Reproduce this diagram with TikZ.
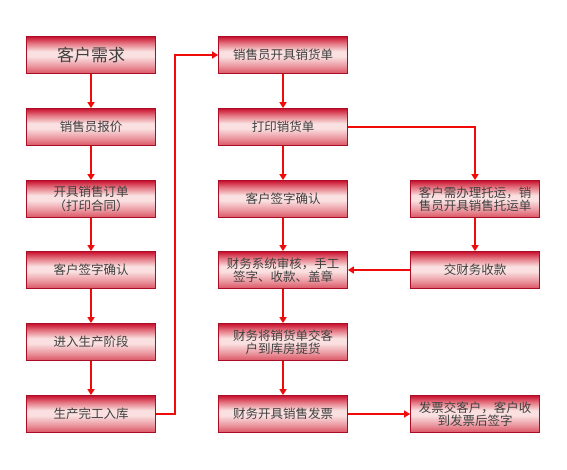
\documentclass[tikz,border=0pt]{standalone}
\usepackage{fontspec}
\newfontfamily\cjk{Noto Sans CJK SC}
\usetikzlibrary{arrows.meta}
\definecolor{boxred}{HTML}{C8102E}
\definecolor{boxmid}{HTML}{E47480}
\definecolor{boxpink}{HTML}{FAE0E0}
\definecolor{boxlow}{HTML}{DA5462}
\definecolor{boxlite}{HTML}{EC9CA4}
\definecolor{lnred}{HTML}{F00A0A}
\pgfdeclareverticalshading{boxshade}{100bp}{color(0bp)=(boxlow); color(25bp)=(boxlow); color(36bp)=(boxlite); color(48bp)=(boxpink); color(55bp)=(boxpink); color(66bp)=(boxmid); color(75bp)=(boxred); color(100bp)=(boxred)}
\tikzset{
	stepbox/.style={draw=boxred!85!black, line width=0.8pt, shading=boxshade,
		minimum width=129pt, minimum height=37pt, inner sep=0pt, align=center, text=black!75,
		font=\cjk\fontsize{12.5pt}{13.5pt}\selectfont},
	flow/.style={draw=lnred, line width=1.5pt, -{Triangle[width=7pt,length=6pt]}}
}

\begin{document}
\begin{tikzpicture}[x=1pt, y=-1pt]
		%%%%% START %%%%%
		\useasboundingbox[fill=white] (0, 0) rectangle (567, 469);
		
		% left column
		\node[stepbox, font=\cjk\fontsize{17pt}{19pt}\selectfont] (need) at (91, 55) {客户需求};
		\node[stepbox] (quote) at (91, 127) {销售员报价};
		\node[stepbox] (order) at (91, 199) {开具销售订单\\（打印合同）};
		\node[stepbox] (signA) at (91, 270) {客户签字确认};
		\node[stepbox] (make) at (91, 342) {进入生产阶段};
		\node[stepbox] (store) at (91, 414) {生产完工入库};
		
		% middle column
		\node[stepbox] (bill) at (283, 55) {销售员开具销货单};
		\node[stepbox] (print) at (283, 127) {打印销货单};
		\node[stepbox] (signB) at (283, 199) {客户签字确认};
		\node[stepbox] (check) at (283, 270) {财务系统审核，手工\\签字、收款、盖章};
		\node[stepbox] (pick) at (283, 342) {财务将销货单交客\\户到库房提货};
		\node[stepbox] (invoice) at (283, 414) {财务开具销售发票};
		
		% right column
		\node[stepbox] (ship) at (475, 199) {客户需办理托运，销\\售员开具销售托运单};
		\node[stepbox] (pay) at (475, 270) {交财务收款};
		\node[stepbox] (recv) at (475, 414) {发票交客户，客户收\\到发票后签字};
		
		\coordinate (turn) at (175, 414);
		
		\draw[flow] (need) -- (quote);
		\draw[flow] (quote) -- (order);
		\draw[flow] (order) -- (signA);
		\draw[flow] (signA) -- (make);
		\draw[flow] (make) -- (store);
		\draw[flow] (store.east) -- (turn) |- (bill.west);
		
		\draw[flow] (bill) -- (print);
		\draw[flow] (print) -- (signB);
		\draw[flow] (signB) -- (check);
		\draw[flow] (check) -- (pick);
		\draw[flow] (pick) -- (invoice);
		
		\draw[flow] (print.east) -| (ship.north);
		\draw[flow] (ship) -- (pay);
		\draw[flow] (pay) -- (check);
		\draw[flow] (invoice) -- (recv);
		%%%%% END %%%%%
	\end{tikzpicture}
\end{document}
